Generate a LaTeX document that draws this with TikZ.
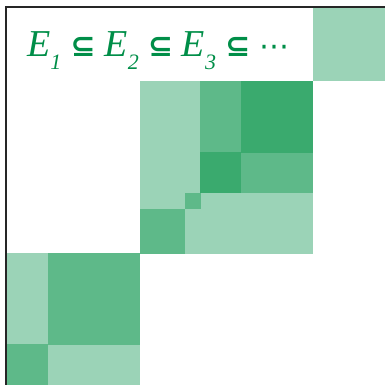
\documentclass[tikz,border=0pt]{standalone}
\usepackage{xcolor}
\usepackage{fontspec}
\usepackage{tikz}
\setmainfont{Liberation Serif}
\newfontfamily\symfont{DejaVu Sans}
\definecolor{mylight}{RGB}{155,211,183}
\definecolor{mymid}{RGB}{94,185,137}
\definecolor{mydark}{RGB}{58,170,110}
\definecolor{mytext}{RGB}{0,142,72}
\newcommand{\Esub}[1]{\textit{E}\raisebox{-13pt}{\fontsize{22}{22}\selectfont\textit{#1}}}
\newcommand{\subrel}{\hspace{9pt}{\symfont\bfseries\fontsize{30}{30}\selectfont ⊆}\hspace{9pt}}
\tikzset{
  lightcell/.style={fill=mylight},
  midcell/.style={fill=mymid},
  darkcell/.style={fill=mydark},
  frame/.style={line width=1.6pt, color=black!85}
}
\begin{document}
\begin{tikzpicture}[x=1pt, y=-1pt]
  \useasboundingbox (0,0) rectangle (385,385);

  % top right block
  \fill[lightcell] (313,8) rectangle (385,81);

  % middle block
  \fill[lightcell] (140,81) rectangle (313,254);
  \fill[midcell] (200,81) rectangle (241,152);
  \fill[darkcell] (241,81) rectangle (313,153);
  \fill[darkcell] (200,152) rectangle (241,193);
  \fill[midcell] (241,153) rectangle (313,193);
  \fill[midcell] (185,193) rectangle (201,209);
  \fill[midcell] (140,209) rectangle (185,254);

  % bottom left block
  \fill[lightcell] (7,253) rectangle (48,344);
  \fill[midcell] (48,253) rectangle (140,345);
  \fill[midcell] (7,344) rectangle (48,385);
  \fill[lightcell] (48,345) rectangle (140,385);

  % frame
  \draw[frame] (6,385) -- (6,7) -- (385,7);

  % chain label
  \node[text=mytext, font=\fontsize{38}{40}\selectfont, anchor=base west, inner sep=0pt] (chain) at (27,57)
    {\Esub{1}\subrel\Esub{2}\subrel\Esub{3}\subrel{\symfont\fontsize{30}{30}\selectfont ⋯}};
\end{tikzpicture}
\end{document}
